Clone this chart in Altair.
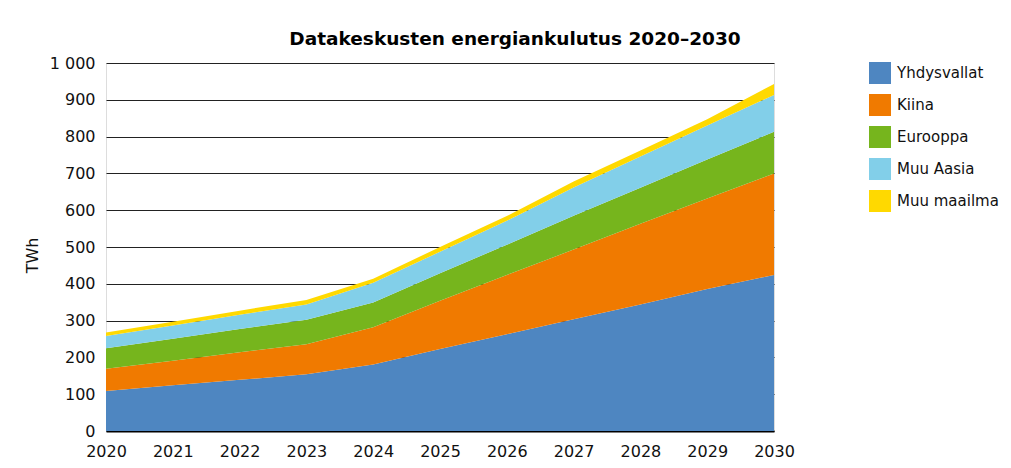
import altair as alt
import pandas as pd

years = [2020, 2021, 2022, 2023, 2024, 2025, 2026, 2027, 2028, 2029, 2030]
regions = ["Yhdysvallat", "Kiina", "Eurooppa", "Muu Aasia", "Muu maailma"]
colors = ["#4E86C1", "#F07A00", "#76B51D", "#82CFE9", "#FFD900"]

us = [109, 124, 139, 154, 181, 223, 263, 304, 344, 386, 424]
china = [60, 67, 75, 82, 101, 131, 161, 189, 219, 246, 276]
europe = [56, 60, 63, 66, 67, 75, 82, 92, 98, 106, 113]
asia = [33, 36, 39, 42, 54, 58, 65, 77, 85, 92, 100]
rest = [10, 10, 11, 12, 11, 13, 13, 16, 16, 17, 30]

y_ticks = [0, 100, 200, 300, 400, 500, 600, 700, 800, 900, 1000]
title_text = "Datakeskusten energiankulutus 2020–2030"

series = [us, china, europe, asia, rest]
rows = []
for rank, (name, vals) in enumerate(zip(regions, series)):
    for yr, v in zip(years, vals):
        rows.append({"year": yr, "region": name, "value": v, "rank": rank})
df = pd.DataFrame(rows)

FONT = "DejaVu Sans"

chart = alt.Chart(df).mark_area(interpolate="linear", opacity=1).encode(
    x=alt.X(
        "year:Q",
        scale=alt.Scale(domain=[2020, 2030], nice=False, zero=False),
        axis=alt.Axis(
            values=years, format="d", title=None, grid=False, ticks=False,
            labelPadding=12, domain=True, domainColor="#000", domainWidth=2,
            labelFlush=False, labelOverlap=False, labelBound=False,
            labelFontSize=16, labelFont=FONT, labelColor="#111",
        ),
    ),
    y=alt.Y(
        "value:Q",
        stack="zero",
        scale=alt.Scale(domain=[0, 1000], nice=False),
        axis=alt.Axis(
            values=y_ticks, grid=True, gridColor="#222", gridWidth=1,
            domain=False, ticks=False, labelPadding=11,
            labelFlush=False, labelOverlap=False,
            labelExpr="replace(format(datum.value, ','), ',', ' ')",
            labelFontSize=16, labelFont=FONT, labelColor="#111",
            title="TWh", titleFont=FONT, titleFontSize=16, titleFontWeight="normal",
            titleColor="#111", titleAngle=270, titleX=-74, titleY=192,
            titleAlign="center", titleBaseline="middle",
        ),
    ),
    color=alt.Color(
        "region:N",
        scale=alt.Scale(domain=regions, range=colors),
        legend=alt.Legend(
            title=None, orient="none", legendX=763, legendY=-1,
            symbolType="square", symbolSize=484, symbolStrokeWidth=0,
            symbolOpacity=1, labelFontSize=15, labelFont=FONT, labelColor="#111",
            labelOffset=6, rowPadding=10, padding=0, labelLimit=200,
        ),
    ),
    order=alt.Order("rank:Q", sort="ascending"),
).properties(
    width=668,
    height=368,
    autosize="none",
    padding={"left": 98, "top": 55, "right": 229, "bottom": 28},
    title=alt.Title(
        title_text, font=FONT, fontSize=18.5, fontWeight="bold", color="#000",
        anchor="middle", dx=75, offset=7,
    ),
).configure_view(stroke=None).configure(background="white")

chart.save("out.html", embed_options={"renderer": "svg", "actions": False})
